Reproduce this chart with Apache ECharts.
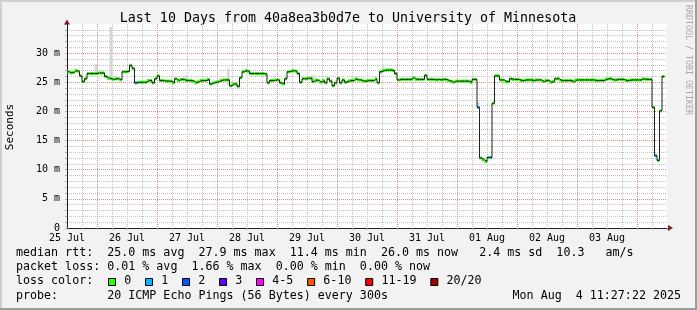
<!DOCTYPE html>
<html><head><meta charset="utf-8">
<script src="https://cdn.jsdelivr.net/npm/echarts@6/dist/echarts.min.js"></script>
<style>html,body{margin:0;padding:0;background:#f2f2f2}#c{width:697px;height:310px}</style>
</head><body><div id="c"></div>
<script>
// ---------- data (hours since start of window, ms) ----------
const titleText = 'Last 10 Days from 40a8ea3b0d7e to University of Minnesota';
const yAxisTitle = 'Seconds';
const dayLabels = ['25 Jul','26 Jul','27 Jul','28 Jul','29 Jul','30 Jul','31 Jul','01 Aug','02 Aug','03 Aug'];
const rtt = [
 26.8,26.6,26.7,27.0,26.9,26.1,25.1,25.6,26.5,26.5, 26.5,26.5,26.6,26.6,26.6,26.0,25.7,25.6,25.5,25.6,
 25.6,25.4,26.8,26.8,26.9,27.9,27.4,24.9,25.0,25.0, 25.0,25.0,25.3,25.3,24.9,25.6,26.1,25.3,25.3,25.2,
 25.2,25.2,24.9,25.6,25.3,25.5,25.5,25.3,25.3,25.3, 25.2,24.9,25.1,25.3,25.3,25.3,25.5,24.7,24.9,25.0,
 25.1,25.3,25.4,25.4,25.4,24.4,24.7,24.7,24.3,25.8, 26.8,27.0,26.9,26.5,26.5,26.5,26.5,26.5,26.5,26.4,
 24.9,25.3,25.3,25.4,25.4,24.9,24.7,25.6,26.8,26.9, 27.0,26.9,26.5,25.0,25.6,25.6,25.7,25.7,25.1,25.4,
 25.3,25.0,25.3,24.9,25.6,25.2,24.4,24.9,25.7,24.9, 25.4,25.0,25.2,25.3,25.3,25.6,25.4,25.4,25.2,25.2,
 25.3,25.3,25.3,25.6,24.9,26.8,27.0,27.1,27.1,27.1, 27.0,26.5,25.4,25.5,25.5,25.5,25.5,25.5,25.8,25.5,
 25.5,25.5,25.5,26.2,25.5,25.5,25.5,25.4,25.5,25.4, 25.5,25.5,25.3,25.2,25.0,25.2,25.2,25.2,25.2,25.2,
 25.2,25.0,25.5,25.5,20.7,12.0,11.7,11.4,12.1,12.1, 21.4,26.1,26.1,25.4,25.4,25.1,25.1,25.6,25.5,25.5,
 25.5,25.3,25.3,25.4,25.4,25.4,25.3,25.4,25.4,25.4, 25.1,25.3,25.3,25.0,25.1,25.6,25.6,25.3,25.3,25.3,
 25.3,25.3,25.1,25.4,25.4,25.4,25.4,25.4,25.4,25.4, 25.4,25.3,25.3,25.3,25.3,25.5,25.6,25.6,25.4,25.4,
 25.5,25.5,25.5,25.3,25.3,25.4,25.4,25.4,25.4,25.4, 25.6,25.5,25.5,25.5,20.7,12.4,11.6,20.1,26.0
];
const lossHours  = [27, 164, 169, 235];
const lossCounts = [1, 1, 1, 1];
const smokeHours = [11, 17, 47, 64, 98, 126, 164, 172, 196];
const smokeLo    = [26.6, 25.6, 25.3, 24.5, 25.1, 27.0, 20.7, 26.0, 25.6];
const smokeHi    = [28.1, 34.5, 26.2, 27.3, 26.2, 27.7, 21.7, 26.3, 26.1];
const lossLabels = ['0','1','2','3','4-5','6-10','11-19','20/20'];
const lossColors = ['#26ff00','#00b8ff','#0059ff','#5e00ff','#ff00ff','#ff5500','#ff0000','#a10000'];
const statRows = [
 'median rtt:  25.0 ms avg  27.9 ms max  11.4 ms min  26.0 ms now   2.4 ms sd  10.3   am/s',
 'packet loss: 0.01 % avg  1.66 % max  0.00 % min  0.00 % now',
 'loss color:',
 'probe:       20 ICMP Echo Pings (56 Bytes) every 300s'
];
const dateText = 'Mon Aug  4 11:27:22 2025';
const watermark = 'RRDTOOL / TOBI OETIKER';

// ---------- build ----------
const MONO = 'DejaVu Sans Mono';
function bucket(n){ if(n<=0)return 0; if(n<=3)return n; if(n<=5)return 4; if(n<=10)return 5; if(n<=19)return 6; return 7; }
const lossAt = rtt.map(()=>0);
lossHours.forEach((h,i)=>{ lossAt[h]=lossCounts[i]; });
const medianData = rtt.map((v,i)=>[i, v, bucket(lossAt[i])]);
const lineData = rtt.map((v,i)=>[i, v]).concat([[rtt.length, rtt[rtt.length-1]]]);
const smokeData = smokeHours.map((h,i)=>[h, smokeLo[i], smokeHi[i]]);

const GREY = '#c2c2c2', RED = '#e18a8a';
const chart = echarts.init(document.getElementById('c'), null, {renderer:'canvas'});

const graphics = [
 {type:'rect', shape:{x:0,y:0,width:697,height:2}, style:{fill:'#cfcfcf'}, silent:true},
 {type:'rect', shape:{x:0,y:0,width:2,height:310}, style:{fill:'#cfcfcf'}, silent:true},
 {type:'rect', shape:{x:0,y:308,width:697,height:2}, style:{fill:'#9e9e9e'}, silent:true},
 {type:'rect', shape:{x:695,y:0,width:2,height:310}, style:{fill:'#9e9e9e'}, silent:true},
 {type:'text', x:348, y:19, style:{text:titleText, fontFamily:MONO, fontSize:13.3, fill:'#000', textAlign:'center', textVerticalAlign:'middle'}},
 {type:'text', x:10, y:127, rotation:Math.PI/2, style:{text:yAxisTitle, fontFamily:MONO, fontSize:11, fill:'#000', textAlign:'center', textVerticalAlign:'middle'}},
 {type:'text', x:688, y:60, rotation:-Math.PI/2, style:{text:watermark, fontFamily:MONO, fontSize:8.3, fill:'#a8a8a8', textAlign:'center', textVerticalAlign:'middle'}},
 {type:'text', x:681, y:295.5, style:{text:dateText, fontFamily:MONO, fontSize:11.66, fill:'#000', textAlign:'right', textVerticalAlign:'middle'}}
];
const rowY = [253.2, 267.3, 281.4, 295.5];
statRows.forEach((t,i)=>graphics.push({type:'text', x:16, y:rowY[i], style:{text:t, fontFamily:MONO, fontSize:11.66, fill:'#000', textAlign:'left', textVerticalAlign:'middle'}}));
const CW = 7.02;
let lx = 108.5;
lossLabels.forEach((lab,i)=>{
  graphics.push({type:'rect', shape:{x:lx, y:278.5, width:7, height:7}, style:{fill:lossColors[i], stroke:'#000', lineWidth:1}});
  graphics.push({type:'text', x:lx+15.7, y:rowY[2], style:{text:lab, fontFamily:MONO, fontSize:11.66, fill:'#000', textAlign:'left', textVerticalAlign:'middle'}});
  lx += 30 + CW*lab.length;
});

const option = {
  backgroundColor:'#f2f2f2',
  animation:false,
  grid:{left:67, right:30, top:24, bottom:82, show:true, backgroundColor:'#ffffff', borderWidth:0},
  xAxis:[
    {type:'value', min:0, max:240, interval:24, position:'bottom',
     axisLine:{show:true, lineStyle:{color:'#801f1f', width:1}, symbol:['none','triangle'], symbolSize:[6,5], symbolOffset:[0,3.5]},
     axisTick:{show:false}, axisLabel:{show:false}, splitLine:{show:false}},
    {type:'value', min:0, max:240, interval:6, position:'bottom',
     axisLine:{show:true, lineStyle:{color:'#202020', width:1}},
     axisTick:{show:true, length:2, lineStyle:{color:'#b0b0b0'}},
     axisLabel:{margin:5, fontFamily:MONO, fontSize:10, color:'#000',
       formatter:(v)=> (v%24===0 && dayLabels[v/24]) ? dayLabels[v/24] : ''},
     splitLine:{show:true, showMinLine:true, showMaxLine:false, lineStyle:{color:[GREY,GREY,RED,GREY], type:[1,1], width:1}}}
  ],
  yAxis:[
    {type:'value', min:0, max:35, interval:5, position:'left',
     axisLine:{show:true, lineStyle:{color:'#801f1f', width:1}, symbol:['none','triangle'], symbolSize:[6,5], symbolOffset:[0,2]},
     axisTick:{show:false}, axisLabel:{show:false}, splitLine:{show:false}},
    {type:'value', min:0, max:35, interval:1, position:'left',
     axisLine:{show:true, lineStyle:{color:'#202020', width:1}},
     axisTick:{show:true, length:2, lineStyle:{color:'#b0b0b0'}},
     axisLabel:{margin:7, fontFamily:MONO, fontSize:10, color:'#000',
       formatter:(v)=> (v%5===0 && v<35) ? (v===0 ? '0' : v+' m') : ''},
     splitLine:{show:true, showMinLine:true, showMaxLine:false, lineStyle:{color:[RED,GREY,GREY,GREY,GREY], type:[1,1], width:1}}}
  ],
  series:[
    {type:'custom', xAxisIndex:1, yAxisIndex:1, data:smokeData, encode:{x:0, y:[1,2]}, silent:true,
     renderItem:(params, api)=>{
       const h=api.value(0), lo=api.value(1), hi=api.value(2);
       const a=api.coord([h, hi]), b=api.coord([h+1, lo]);
       return {type:'rect', shape:{x:a[0], y:a[1], width:b[0]-a[0], height:b[1]-a[1]}, style:{fill:'#d6d6d6'}};
     }},
    {type:'line', xAxisIndex:1, yAxisIndex:1, data:lineData, step:'end', showSymbol:false, symbol:'none',
     lineStyle:{color:'#202020', width:1}, silent:true},
    {type:'custom', xAxisIndex:1, yAxisIndex:1, data:medianData, encode:{x:0, y:1}, silent:true,
     renderItem:(params, api)=>{
       const h=api.value(0), v=api.value(1), b=api.value(2);
       const a=api.coord([h, v]), e=api.coord([h+1, v]);
       return {type:'rect', shape:{x:a[0], y:a[1]-1.5, width:e[0]-a[0], height:3}, style:{fill:lossColors[b]}};
     }}
  ],
  graphic: graphics
};
chart.setOption(option);
</script>
</body></html>
